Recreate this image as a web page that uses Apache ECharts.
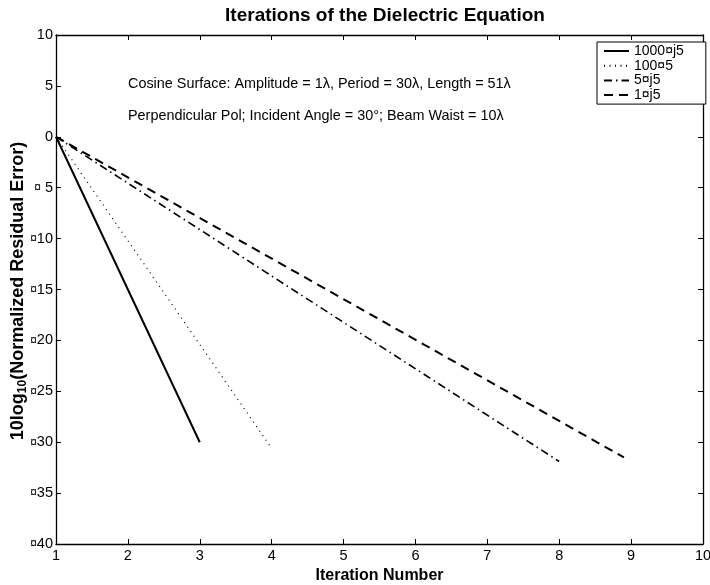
<!DOCTYPE html>
<html>
<head>
<meta charset="utf-8">
<script src="https://cdn.jsdelivr.net/npm/echarts@6/dist/echarts.min.js"></script>
<style>
  html, body { margin: 0; padding: 0; background: #fff; }
  #main { width: 710px; height: 585px; }
</style>
</head>
<body>
<div id="main"></div>
<script>
// series names as printed in the legend
const seriesNames = ['1000¤j5', '100¤5', '5¤j5', '1¤j5'];
// each run goes from iteration 1 at 0 dB down to its last iteration
const iterStart = [1, 1, 1, 1];
const iterEnd = [3, 4, 8, 8.9];
const errStart = [0, 0, 0, 0];
const errEnd = [-30, -30.6, -31.9, -31.5];

const lineStyles = [
  { type: 'solid', width: 2 },
  { type: [1, 4.5], width: 1.2 },
  { type: [8, 4, 1.5, 4], width: 1.6 },
  { type: [9, 6], width: 2 }
];

const font = 'Liberation Sans, Arial, Helvetica, sans-serif';

let chart = echarts.init(document.getElementById('main'));

let series = seriesNames.map((name, i) => ({
  name: name,
  type: 'line',
  symbol: 'none',
  color: '#000',
  lineStyle: Object.assign({ color: '#000' }, lineStyles[i]),
  data: [[iterStart[i], errStart[i]], [iterEnd[i], errEnd[i]]]
}));

function yLabel(v) {
  if (v < 0) {
    let n = -v;
    return '{m|¤}' + (n < 10 ? ' ' : '') + n;
  }
  return '' + v;
}

let axisCommon = {
  axisLine: { show: true, onZero: false, lineStyle: { color: '#000', width: 1.3 } },
  axisTick: { show: true, inside: true, length: 5, lineStyle: { color: '#000' } },
  splitLine: { show: false }
};

let option = {
  animation: false,
  backgroundColor: '#fff',
  textStyle: { fontFamily: font },
  title: {
    text: 'Iterations of the Dielectric Equation',
    left: 380,
    textAlign: 'center',
    top: 1,
    textStyle: { fontSize: 19, fontWeight: 'bold', color: '#000', fontFamily: font }
  },
  legend: {
    orient: 'vertical',
    left: 597,
    top: 42,
    itemWidth: 25,
    itemHeight: 10,
    itemGap: 0.7,
    padding: [2, 22, 2, 6],
    borderColor: '#000',
    borderWidth: 1,
    backgroundColor: '#fff',
    itemStyle: { opacity: 0 },
    textStyle: { fontSize: 14, lineHeight: 14, color: '#000', fontFamily: font },
    data: seriesNames
  },
  grid: { left: 56, right: 7, top: 35, bottom: 41, outerBoundsMode: 'none', containLabel: false },
  xAxis: [
    Object.assign({
      type: 'value', min: 1, max: 10, interval: 1,
      name: 'Iteration Number',
      nameLocation: 'middle',
      nameGap: 20,
      nameTextStyle: { fontSize: 16, fontWeight: 'bold', color: '#000', fontFamily: font },
      axisLabel: { fontSize: 14.5, color: '#000', margin: 4, fontFamily: font }
    }, axisCommon),
    Object.assign({
      type: 'value', min: 1, max: 10, interval: 1, position: 'top',
      axisLabel: { show: false }
    }, axisCommon)
  ],
  yAxis: [
    Object.assign({
      type: 'value', min: -40, max: 10, interval: 5,
      axisLabel: {
        fontSize: 14.5, color: '#000', margin: 3, fontFamily: font,
        formatter: yLabel,
        rich: { m: { fontSize: 12, color: '#000', fontFamily: font } }
      }
    }, axisCommon),
    Object.assign({
      type: 'value', min: -40, max: 10, interval: 5, position: 'right',
      axisLabel: { show: false }
    }, axisCommon)
  ],
  graphic: [
    {
      // y axis title, rotated, with subscript
      type: 'text', x: 18, y: 291, rotation: Math.PI / 2,
      style: {
        text: '10log{sub|10}(Normalized Residual Error)',
        align: 'center', verticalAlign: 'middle',
        fontSize: 18, fontWeight: 'bold', fill: '#000', fontFamily: font,
        rich: { sub: { fontSize: 12, fontWeight: 'bold', verticalAlign: 'bottom', padding: [10, 0, 0, 0], fontFamily: font } }
      }
    },
    {
      type: 'text', left: 128, top: 77,
      style: { text: 'Cosine Surface: Amplitude = 1λ, Period = 30λ, Length = 51λ', fontSize: 14.4, fill: '#000', fontFamily: font }
    },
    {
      type: 'text', left: 128, top: 109,
      style: { text: 'Perpendicular Pol; Incident Angle = 30°; Beam Waist = 10λ', fontSize: 14.4, fill: '#000', fontFamily: font }
    }
  ],
  series: series
};

chart.setOption(option);
</script>
</body>
</html>
